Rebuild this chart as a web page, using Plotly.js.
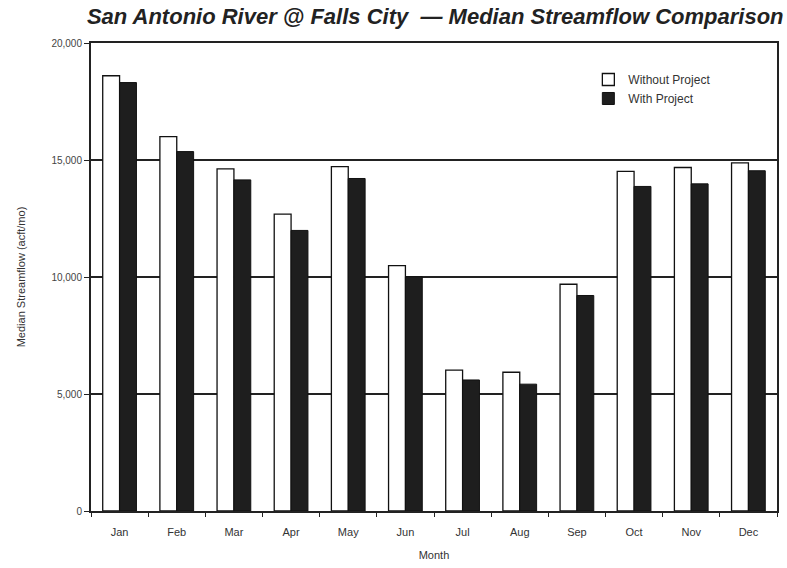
<!DOCTYPE html>
<html>
<head>
<meta charset="utf-8">
<script src="https://cdn.plot.ly/plotly-3.0.1.min.js"></script>
<style>html,body{margin:0;padding:0;background:#fff;}#chart{width:787px;height:568px;}</style>
</head>
<body>
<div id="chart"></div>
<script>
const months = ["Jan","Feb","Mar","Apr","May","Jun","Jul","Aug","Sep","Oct","Nov","Dec"];
const withoutProject = [18600, 16000, 14620, 12690, 14720, 10490, 6020, 5930, 9690, 14510, 14680, 14880];
const withProject = [18310, 15360, 14150, 11990, 14210, 10010, 5600, 5420, 9210, 13870, 13980, 14540];
const yTickVals = [0, 5000, 10000, 15000, 20000];
const yTickText = ["0", "5,000", "10,000", "15,000", "20,000"];

const traces = [
  {
    type: "bar", name: "Without Project", x: months, y: withoutProject,
    marker: {color: "#ffffff", line: {color: "#111111", width: 1.3}}
  },
  {
    type: "bar", name: "With Project", x: months, y: withProject,
    marker: {color: "#1e1e1e", line: {color: "#111111", width: 1}}
  }
];

const layout = {
  width: 787, height: 568,
  margin: {l: 91, r: 10, t: 43, b: 57},
  paper_bgcolor: "#ffffff", plot_bgcolor: "#ffffff",
  font: {family: "Liberation Sans, Arial, sans-serif", color: "#333333"},
  title: {
    text: "<b><i>San Antonio River @ Falls City  — Median Streamflow Comparison</i></b>",
    font: {size: 22, color: "#222222", family: "Liberation Sans, Arial, sans-serif"},
    x: 0.553, xanchor: "center", y: 0.972, yanchor: "middle"
  },
  barmode: "group", bargap: 0.41, bargroupgap: 0,
  showlegend: true,
  legend: {
    x: 0.725, y: 0.953, xanchor: "left", yanchor: "top",
    bgcolor: "rgba(0,0,0,0)", font: {size: 12, color: "#333333"},
    traceorder: "normal"
  },
  xaxis: {
    type: "category", tickson: "boundaries",
    showline: true, linecolor: "#222222", linewidth: 2, mirror: true,
    ticks: "outside", ticklen: 4, tickcolor: "#222222",
    ticklabelstandoff: 10,
    tickfont: {size: 11, color: "#333333"},
    title: {text: "Month", font: {size: 11, color: "#333333"}, standoff: 14},
    showgrid: false
  },
  yaxis: {
    range: [0, 20000], tickvals: yTickVals, ticktext: yTickText,
    showline: true, linecolor: "#222222", linewidth: 2, mirror: true,
    ticks: "outside", ticklen: 5, tickcolor: "#222222",
    tickfont: {size: 10, color: "#444444"},
    showgrid: true, gridcolor: "#222222", gridwidth: 1.5,
    zeroline: false,
    title: {text: "Median Streamflow (acft/mo)", font: {size: 11, color: "#333333"}, standoff: 24}
  }
};

Plotly.newPlot("chart", traces, layout, {displayModeBar: false, staticPlot: true});
</script>
</body>
</html>
